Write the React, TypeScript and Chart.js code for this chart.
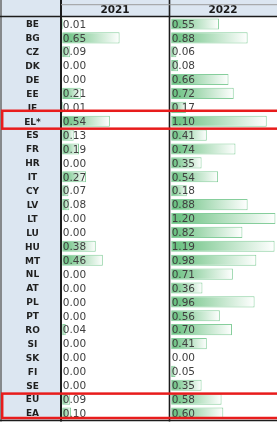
import React, { useEffect, useRef } from 'react';
import { Chart, registerables } from 'chart.js';

Chart.register(...registerables);

const countries = ['BE', 'BG', 'CZ', 'DK', 'DE', 'EE', 'IE', 'EL*', 'ES', 'FR', 'HR', 'IT', 'CY', 'LV', 'LT', 'LU', 'HU', 'MT', 'NL', 'AT', 'PL', 'PT', 'RO', 'SI', 'SK', 'FI', 'SE', 'EU', 'EA'];
const values2021 = [0.01, 0.65, 0.09, 0.00, 0.00, 0.21, 0.01, 0.54, 0.13, 0.19, 0.00, 0.27, 0.07, 0.08, 0.00, 0.00, 0.38, 0.46, 0.00, 0.00, 0.00, 0.00, 0.04, 0.00, 0.00, 0.00, 0.00, 0.09, 0.10];
const values2022 = [0.55, 0.88, 0.06, 0.08, 0.66, 0.72, 0.17, 1.10, 0.41, 0.74, 0.35, 0.54, 0.18, 0.88, 1.20, 0.82, 1.19, 0.98, 0.71, 0.36, 0.96, 0.56, 0.70, 0.41, 0.00, 0.05, 0.35, 0.58, 0.60];
const columnHeaders = ['2021', '2022'];
const highlightGroups = [['EL*'], ['EU', 'EA']];

const LIGHT_BLUE = '#dce6f1';
const BAR_GREEN = '#63BE7B';
const BAR_BORDER = '#86ce9c';
const DARK_LINE = '#1c1c1c';
const RED = '#e81c1c';

function gradientFor(axisId: string) {
  return (c: any) => {
    const chart = c.chart;
    const scale = chart.scales && chart.scales[axisId];
    if (!scale || c.type !== 'data' || typeof c.raw !== 'number') return BAR_GREEN;
    const x0 = scale.getPixelForValue(0);
    const x1 = scale.getPixelForValue(c.raw);
    if (!isFinite(x0) || !isFinite(x1) || x1 - x0 < 1) return BAR_GREEN;
    const g = chart.ctx.createLinearGradient(x0, 0, x1, 0);
    g.addColorStop(0, BAR_GREEN);
    g.addColorStop(1, '#ffffff');
    return g;
  };
}

const tablePlugin = {
  id: 'tableFrame',
  beforeDraw(chart: any) {
    const { ctx, width, height, chartArea } = chart;
    ctx.save();
    ctx.fillStyle = '#ffffff';
    ctx.fillRect(0, 0, width, height);
    ctx.fillStyle = LIGHT_BLUE;
    ctx.fillRect(0, 0, width, chartArea.top);
    ctx.fillRect(0, 0, chartArea.left, chartArea.bottom);
    ctx.restore();
  },
  afterDatasetsDraw(chart: any) {
    const { ctx, chartArea } = chart;
    const y = chart.scales.y;
    ctx.save();
    ctx.textBaseline = 'middle';
    ctx.textAlign = 'left';
    ctx.font = '10.5px "DejaVu Sans"';
    ctx.fillStyle = '#404040';
    chart.data.datasets.forEach((ds: any) => {
      const scale = chart.scales[ds.xAxisID];
      const x0 = scale.getPixelForValue(0);
      ds.data.forEach((v: number, i: number) => {
        ctx.fillText(v.toFixed(2), x0 + 0.5, y.getPixelForValue(i) + 1);
      });
    });
    ctx.font = 'bold 9px "DejaVu Sans"';
    ctx.fillStyle = '#1f1f1f';
    ctx.textAlign = 'center';
    const cx = (2 + chartArea.left) / 2 + 1;
    chart.data.labels.forEach((l: string, i: number) => {
      ctx.fillText(l, cx, y.getPixelForValue(i) + 1);
    });
    ctx.restore();
  },
  afterDraw(chart: any) {
    const { ctx, chartArea, width } = chart;
    const y = chart.scales.y;
    const x2 = chart.scales.x2022;
    const bottom = chartArea.bottom + 0.5;
    ctx.save();
    const line = (x1: number, y1: number, xx: number, yy: number, w: number, col: string) => {
      ctx.beginPath();
      ctx.moveTo(x1, y1);
      ctx.lineTo(xx, yy);
      ctx.lineWidth = w;
      ctx.strokeStyle = col;
      ctx.stroke();
    };
    line(1, 0, 1, bottom + 1, 1.5, '#6a6a6a');
    line(chartArea.left, 0, chartArea.left, bottom + 1, 2, DARK_LINE);
    line(x2.left + 0.5, 0, x2.left + 0.5, bottom + 1, 1.6, DARK_LINE);
    line(chartArea.left, 4.7, width, 4.7, 1, '#9c9c9c');
    line(0, chartArea.top - 0.6, width, chartArea.top - 0.6, 1.5, DARK_LINE);
    line(0, bottom, width, bottom, 1.5, DARK_LINE);

    const rowH = (y.bottom - y.top) / countries.length;
    ctx.strokeStyle = RED;
    ctx.lineWidth = 2.5;
    highlightGroups.forEach((grp, gi) => {
      const first = countries.indexOf(grp[0]);
      const last = countries.indexOf(grp[grp.length - 1]);
      let top = y.getPixelForValue(first) - rowH / 2;
      let bot = y.getPixelForValue(last) + rowH / 2;
      if (gi === 0) { top -= 3.5; bot += 0.5; } else { top += 1.4; bot -= 2; }
      ctx.strokeRect(2.2, top, width + 20, bot - top);
    });
    ctx.restore();
  },
};

export default function App() {
  const ref = useRef<HTMLCanvasElement | null>(null);
  useEffect(() => {
    document.body.style.margin = '0';
    if (!ref.current) return;
    const headerFont = { family: 'DejaVu Sans', size: 10.5, weight: 'bold' as const };
    const xAxis = (title: string, min: number, max: number, weight: number) => ({
      type: 'linear' as const,
      position: 'top' as const,
      stack: 'cols',
      stackWeight: 1,
      weight,
      min,
      max,
      ticks: { display: false },
      grid: { display: false },
      border: { display: false },
      title: { display: true, text: title, color: '#1a1a1a', font: headerFont, padding: { top: 4.4, bottom: 0 } },
      afterFit: (s: any) => { s.height = 17; },
    });
    const barCommon = {
      grouped: false,
      barPercentage: 0.8,
      categoryPercentage: 1,
      borderSkipped: false,
      borderColor: BAR_BORDER,
      borderWidth: (c: any) => (c.raw > 0 ? 1 : 0),
    };
    const chart = new Chart(ref.current, {
      type: 'bar',
      data: {
        labels: countries,
        datasets: [
          { label: columnHeaders[0], data: values2021, xAxisID: 'x2021', yAxisID: 'y', backgroundColor: gradientFor('x2021'), ...barCommon } as any,
          { label: columnHeaders[1], data: values2022, xAxisID: 'x2022', yAxisID: 'y', backgroundColor: gradientFor('x2022'), ...barCommon } as any,
        ],
      },
      options: {
        indexAxis: 'y',
        animation: false,
        responsive: true,
        maintainAspectRatio: false,
        devicePixelRatio: 1,
        events: [],
        layout: { padding: { left: 61, right: 0, top: 0, bottom: 3 } },
        plugins: { legend: { display: false }, tooltip: { enabled: false } },
        scales: {
          y: { type: 'category', display: false, offset: true },
          x2021: xAxis(columnHeaders[0], -0.014, 1.21, 2),
          x2022: xAxis(columnHeaders[1], -0.025, 1.218, 1),
        } as any,
      },
      plugins: [tablePlugin],
    });
    return () => chart.destroy();
  }, []);
  return (
    <div style={{ position: 'absolute', left: 0, top: 0, width: 277, height: 423 }}>
      <canvas ref={ref} />
    </div>
  );
}
